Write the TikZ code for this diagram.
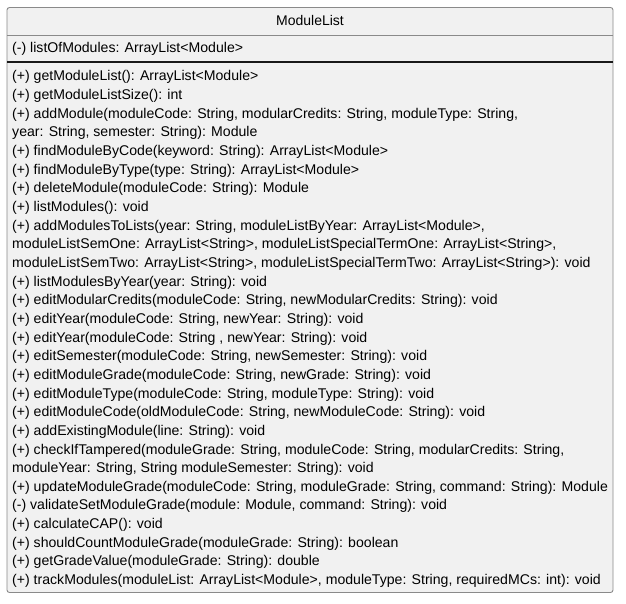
\documentclass[tikz,border=0pt]{standalone}
\usepackage{fontspec}
\setmainfont{Liberation Sans}
\begin{document}
\begin{tikzpicture}[x=1pt,y=-1pt,
  classfill/.style={fill=boxbg, draw=boxline, line width=0.9pt, rounded corners=2.5pt},
  sepline/.style={draw=boxline, line width=0.9pt},
  strongsep/.style={draw=black!90, line width=1.1pt},
  title/.style={anchor=base, inner sep=0pt, font=\fontsize{14}{16}\selectfont},
  member/.style={anchor=base west, inner sep=0pt, font=\fontsize{14.1}{16}\selectfont}]
\definecolor{boxbg}{HTML}{F1F1F1}
\definecolor{boxline}{HTML}{8A8A8A}
\useasboundingbox[fill=white] (0,0) rectangle (626,604);

% class box with its three compartments
\path[classfill] (7,7.5) rectangle (613,592.5);
\draw[sepline] (7,35) -- (613,35);
\draw[strongsep] (7,62) -- (613,62);

\node[title] (name) at (310,26) {ModuleList};
\node[member] (attr) at (12,53) {(-) listOfModules: ArrayList<Module>};

% operations, one baseline every 18.65pt
\foreach \txt [count=\i from 0] in {
  {(+) getModuleList(): ArrayList<Module>},
  {(+) getModuleListSize(): int},
  {(+) addModule(moduleCode: String, modularCredits: String, moduleType: String,},
  {year: String, semester: String): Module},
  {(+) findModuleByCode(keyword: String): ArrayList<Module>},
  {(+) findModuleByType(type: String): ArrayList<Module>},
  {(+) deleteModule(moduleCode: String): Module},
  {(+) listModules(): void},
  {(+) addModulesToLists(year: String, moduleListByYear: ArrayList<Module>,},
  {moduleListSemOne: ArrayList<String>, moduleListSpecialTermOne: ArrayList<String>,},
  {moduleListSemTwo: ArrayList<String>, moduleListSpecialTermTwo: ArrayList<String>): void},
  {(+) listModulesByYear(year: String): void},
  {(+) editModularCredits(moduleCode: String, newModularCredits: String): void},
  {(+) editYear(moduleCode: String, newYear: String): void},
  {(+) editYear(moduleCode: String , newYear: String): void},
  {(+) editSemester(moduleCode: String, newSemester: String): void},
  {(+) editModuleGrade(moduleCode: String, newGrade: String): void},
  {(+) editModuleType(moduleCode: String, moduleType: String): void},
  {(+) editModuleCode(oldModuleCode: String, newModuleCode: String): void},
  {(+) addExistingModule(line: String): void},
  {(+) checkIfTampered(moduleGrade: String, moduleCode: String, modularCredits: String,},
  {moduleYear: String, String moduleSemester: String): void},
  {(+) updateModuleGrade(moduleCode: String, moduleGrade: String, command: String): Module},
  {(-) validateSetModuleGrade(module: Module, command: String): void},
  {(+) calculateCAP(): void},
  {(+) shouldCountModuleGrade(moduleGrade: String): boolean},
  {(+) getGradeValue(moduleGrade: String): double},
  {(+) trackModules(moduleList: ArrayList<Module>, moduleType: String, requiredMCs: int): void}}
  \node[member] (op\i) at (12,{81+18.65*\i}) {\txt};
\end{tikzpicture}
\end{document}
